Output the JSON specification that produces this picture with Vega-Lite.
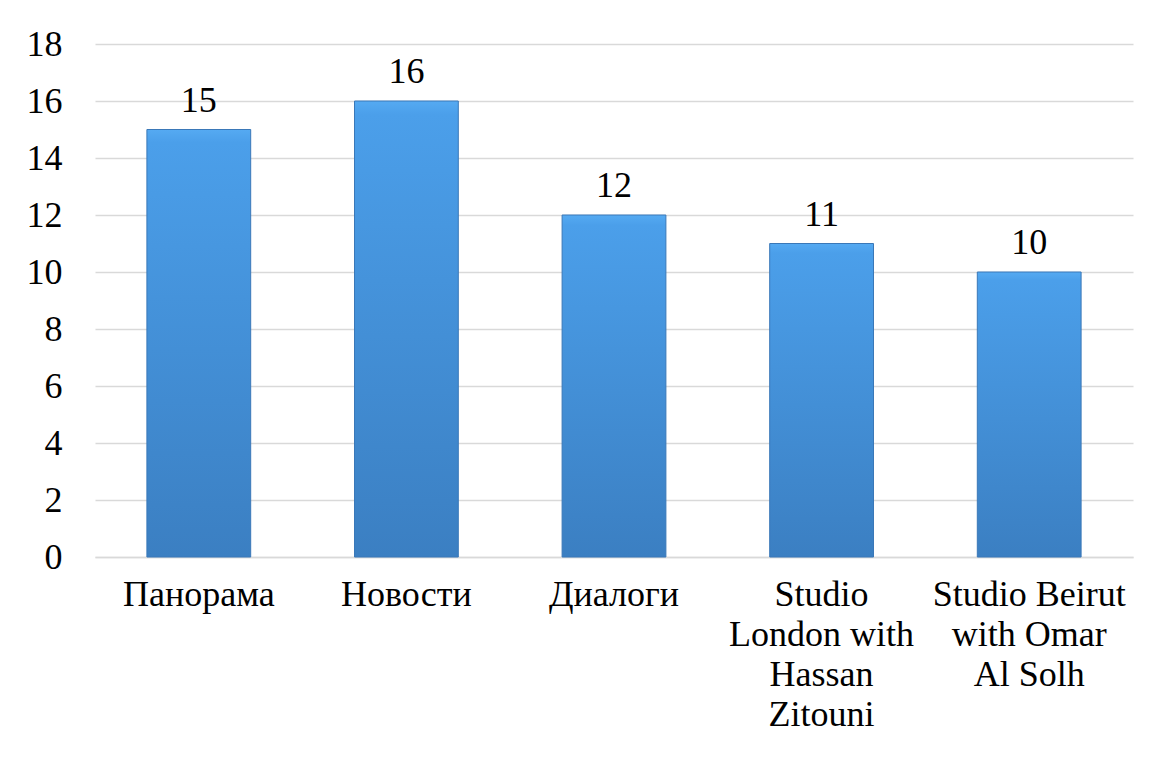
{
  "$schema": "https://vega.github.io/schema/vega-lite/v6.json",
  "width": 1038,
  "height": 513,
  "autosize": "none",
  "padding": {"left": 95, "top": 44, "right": 17, "bottom": 200},
  "background": "white",
  "config": {
    "view": {"stroke": null},
    "font": "Liberation Serif",
    "text": {"font": "Liberation Serif"},
    "axis": {"labelFont": "Liberation Serif"}
  },
  "data": {
    "values": [
      {"program": "Панорама", "value": 15},
      {"program": "Новости", "value": 16},
      {"program": "Диалоги", "value": 12},
      {"program": "Studio|London with|Hassan|Zitouni", "value": 11},
      {"program": "Studio Beirut|with Omar|Al Solh", "value": 10}
    ]
  },
  "encoding": {
    "x": {
      "field": "program",
      "type": "nominal",
      "sort": null,
      "scale": {"paddingInner": 0.5, "paddingOuter": 0.25},
      "axis": {
        "title": null,
        "labelAngle": 0,
        "labelFont": "Liberation Serif",
        "labelFontSize": 36,
        "labelColor": "#000000",
        "labelExpr": "split(datum.label, '|')",
        "labelLineHeight": 40,
        "labelBaseline": "top",
        "labelPadding": 20,
        "ticks": false,
        "domainColor": "#d9d9d9",
        "domainWidth": 1.5,
        "labelLimit": 400
      }
    },
    "y": {
      "field": "value",
      "type": "quantitative",
      "scale": {"domain": [0, 18]},
      "axis": {
        "title": null,
        "values": [0, 2, 4, 6, 8, 10, 12, 14, 16, 18],
        "labelFont": "Liberation Serif",
        "labelFontSize": 36,
        "labelColor": "#000000",
        "labelPadding": 33,
        "ticks": false,
        "domain": false,
        "gridColor": "#d9d9d9",
        "gridWidth": 1.5
      }
    }
  },
  "layer": [
    {
      "mark": {
        "type": "bar",
        "stroke": "#3a78b8",
        "strokeWidth": 1,
        "color": {
          "gradient": "linear",
          "x1": 0, "y1": 0, "x2": 0, "y2": 1,
          "stops": [
            {"offset": 0, "color": "#55aaf2"},
            {"offset": 0.03, "color": "#4b9fea"},
            {"offset": 1, "color": "#3b7fc2"}
          ]
        }
      }
    },
    {
      "mark": {
        "type": "text",
        "baseline": "alphabetic",
        "dy": -18,
        "fontSize": 36,
        "font": "Liberation Serif",
        "color": "#000000"
      },
      "encoding": {"text": {"field": "value", "type": "quantitative"}}
    }
  ]
}
